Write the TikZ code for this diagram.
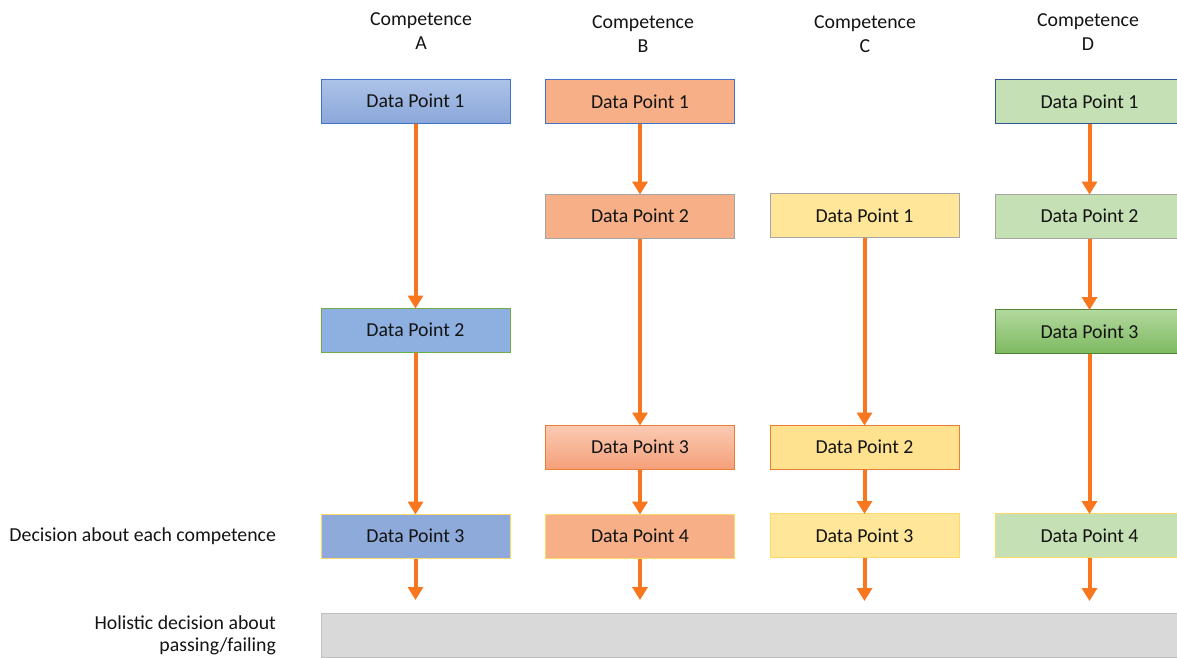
\documentclass[tikz,border=0pt]{standalone}
\usepackage{fontspec}
\setmainfont{Carlito}
\usetikzlibrary{arrows.meta}
\definecolor{arr}{RGB}{247,118,30}
\definecolor{txt}{RGB}{20,20,20}
\definecolor{bluef}{HTML}{8EAADB}
\definecolor{bluef2}{HTML}{8DB0E0}
\definecolor{bluetop}{HTML}{ADC3E8}
\definecolor{bluebot}{HTML}{8BA7DA}
\definecolor{blueb}{HTML}{4472C4}
\definecolor{darkblueb}{HTML}{2F5597}
\definecolor{greenb}{HTML}{70AD47}
\definecolor{yelb}{HTML}{FFD966}
\definecolor{orf}{HTML}{F6AF87}
\definecolor{ortop}{HTML}{FBCBB3}
\definecolor{orbot}{HTML}{F4A07A}
\definecolor{orb}{HTML}{ED7D31}
\definecolor{greyb}{HTML}{A5A5A5}
\definecolor{yf}{HTML}{FFE699}
\definecolor{yf2}{HTML}{FFE28F}
\definecolor{gf}{HTML}{C5E0B4}
\definecolor{gtop}{HTML}{B3D99E}
\definecolor{gbot}{HTML}{7DB960}
\definecolor{gdb}{HTML}{548235}
\definecolor{barf}{HTML}{D9D9D9}
\definecolor{barb}{HTML}{BFBFBF}
\tikzset{
  dp/.style={draw, line width=1pt, minimum width=189pt, minimum height=44pt, inner sep=0pt, text=txt, font=\fontsize{19.8}{22}\selectfont},
  hdr/.style={align=center, text=txt, font=\fontsize{19.8}{24}\selectfont},
  lbl/.style={align=right, anchor=east, text=txt, font=\fontsize{19.8}{22}\selectfont},
  flow/.style={draw=arr, line width=4pt, -{Triangle[width=15pt,length=13pt]}, shorten >=-1pt}
}
\begin{document}
\begin{tikzpicture}[x=1pt,y=-1pt]
\clip (0,0) rectangle (1177,657);
\fill[white] (0,0) rectangle (1177,657);
% headers
\node[hdr] (hA) at (421,31) {Competence\\A};
\node[hdr] (hB) at (643,34) {Competence\\B};
\node[hdr] (hC) at (865,34) {Competence\\C};
\node[hdr] (hD) at (1088,32) {Competence\\D};
% column A
\node[dp, draw=blueb, top color=bluetop, bottom color=bluebot] (a1) at (415.5,101) {Data Point 1};
\node[dp, draw=greenb, fill=bluef2] (a2) at (415.5,330) {Data Point 2};
\node[dp, draw=yelb, fill=bluef] (a3) at (415.5,536) {Data Point 3};
% column B
\node[dp, draw=blueb, fill=orf] (b1) at (640,101.5) {Data Point 1};
\node[dp, draw=greyb, fill=orf] (b2) at (640,216) {Data Point 2};
\node[dp, draw=orb, top color=ortop, bottom color=orbot] (b3) at (640,447) {Data Point 3};
\node[dp, draw=yelb, fill=orf] (b4) at (640,536) {Data Point 4};
% column C
\node[dp, draw=greyb, fill=yf] (c1) at (864.5,215.5) {Data Point 1};
\node[dp, draw=orb, fill=yf2] (c2) at (864.5,447) {Data Point 2};
\node[dp, draw=yelb, fill=yf] (c3) at (864.5,535.5) {Data Point 3};
% column D
\node[dp, draw=darkblueb, fill=gf] (d1) at (1089.5,101.5) {Data Point 1};
\node[dp, draw=greyb, fill=gf] (d2) at (1089.5,216) {Data Point 2};
\node[dp, draw=gdb, top color=gtop, bottom color=gbot] (d3) at (1089.5,331.5) {Data Point 3};
\node[dp, draw=yelb, fill=gf] (d4) at (1089.5,535.5) {Data Point 4};
% holistic bar
\node[draw=barb, fill=barf, line width=1pt, minimum width=880pt, minimum height=44pt, anchor=north west, inner sep=0pt] (bar) at (321,613) {};
% left labels
\node[lbl] (ldec) at (279.5,536) {Decision about each competence};
\node[lbl] (lhol) at (279.5,635) {Holistic decision about\\passing/failing};
% bottom arrow ends
\coordinate (ea) at (415.5,599);
\coordinate (eb) at (640,599);
\coordinate (ec) at (864.5,600);
\coordinate (ed) at (1089.5,600);
% arrows
\draw[flow] (a1.south) -- (a2.north);
\draw[flow] (a2.south) -- (a3.north);
\draw[flow] (a3.south) -- (ea);
\draw[flow] (b1.south) -- (b2.north);
\draw[flow] (b2.south) -- (b3.north);
\draw[flow] (b3.south) -- (b4.north);
\draw[flow] (b4.south) -- (eb);
\draw[flow] (c1.south) -- (c2.north);
\draw[flow] (c2.south) -- (c3.north);
\draw[flow] (c3.south) -- (ec);
\draw[flow] (d1.south) -- (d2.north);
\draw[flow] (d2.south) -- (d3.north);
\draw[flow] (d3.south) -- (d4.north);
\draw[flow] (d4.south) -- (ed);
\end{tikzpicture}
\end{document}
